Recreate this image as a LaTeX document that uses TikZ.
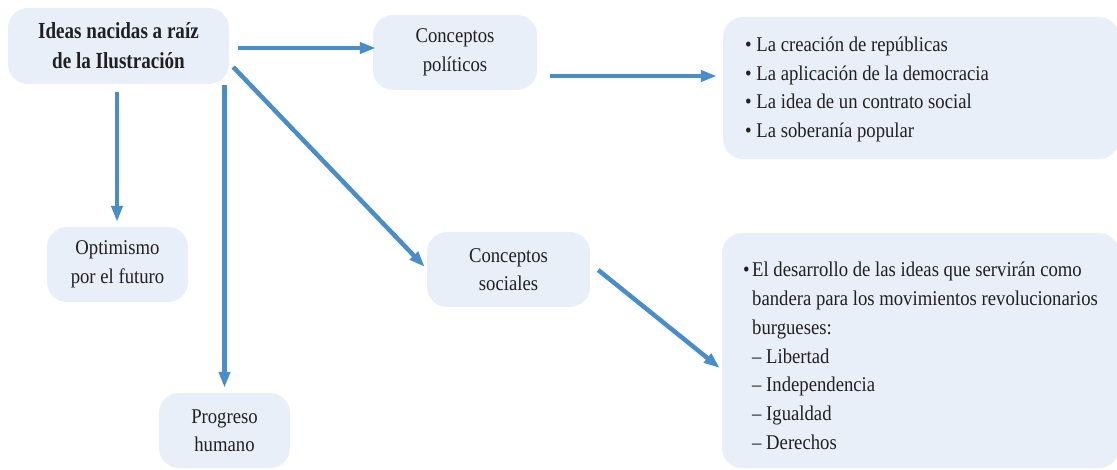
\documentclass[tikz,border=0pt]{standalone}
\usepackage{fontspec}
\setmainfont[FakeStretch=0.89]{Liberation Serif}
\newfontfamily\titlefont[FakeStretch=0.83]{Liberation Serif}
\usetikzlibrary{arrows.meta}
\definecolor{boxfill}{HTML}{E8EFF8}
\definecolor{arrowblue}{HTML}{4A8DCB}
\definecolor{txt}{HTML}{231F20}
\begin{document}
\begin{tikzpicture}[x=1pt,y=-1pt,
  box/.style={fill=boxfill, rounded corners=20pt, inner sep=0pt, align=center, text=txt, font=\fontsize{21}{28.5}\selectfont},
  listtext/.style={anchor=west, align=left, inner sep=0pt, text=txt, font=\fontsize{21}{28.8}\selectfont},
  arr/.style={draw=arrowblue, line width=4.5pt, -{Triangle[length=16pt,width=11pt]}},
]
\useasboundingbox (0,0) rectangle (1117,470);
\node[box, minimum width=221pt, minimum height=76pt, font=\titlefont\bfseries\fontsize{23}{30}\selectfont] (main) at (118.5,46) {Ideas nacidas a raíz\\de la Ilustración};
\node[box, minimum width=164pt, minimum height=75pt] (cp) at (455,52.5) {Conceptos\\políticos};
\node[box, minimum width=141pt, minimum height=75pt] (op) at (117.5,264.5) {Optimismo\\por el futuro};
\node[box, minimum width=131pt, minimum height=75pt] (ph) at (224.5,430.5) {Progreso\\humano};
\node[box, minimum width=163pt, minimum height=75pt] (cs) at (508.5,269.5) {Conceptos\\sociales};
\node[box, minimum width=396pt, minimum height=142pt] (tr) at (921,88) {};
\node[listtext] (trtext) at (745,89.5) {• La creación de repúblicas\\• La aplicación de la democracia\\• La idea de un contrato social\\• La soberanía popular};
\node[box, minimum width=397pt, minimum height=235pt] (br) at (920.5,350.5) {};
\node[listtext] (brtext) at (752,356) {\llap{•\hspace{2.5pt}}El desarrollo de las ideas que servirán como\\bandera para los movimientos revolucionarios\\burgueses:\\– Libertad\\– Independencia\\– Igualdad\\– Derechos};
\draw[arr] ([shift={(9,2)}]main.east) -- ([shift={(3,-4.5)}]cp.west);
\draw[arr] ([shift={(-1.5,8)}]main.south) -- ([shift={(-0.5,-5)}]op.north);
\draw[arr] ([shift={(0,1)}]main.south -| ph.north) -- ([shift={(0,-5)}]ph.north);
\draw[arr] ([shift={(4,21)}]main.east) -- ([shift={(-2,-2.5)}]cs.west);
\draw[arr] ([shift={(13,23.5)}]cp.east) -- ([shift={(-6,-12)}]tr.west);
\draw[arr] ([shift={(8,0.5)}]cs.east) -- ([shift={(-2,17.5)}]br.west);
\end{tikzpicture}
\end{document}
